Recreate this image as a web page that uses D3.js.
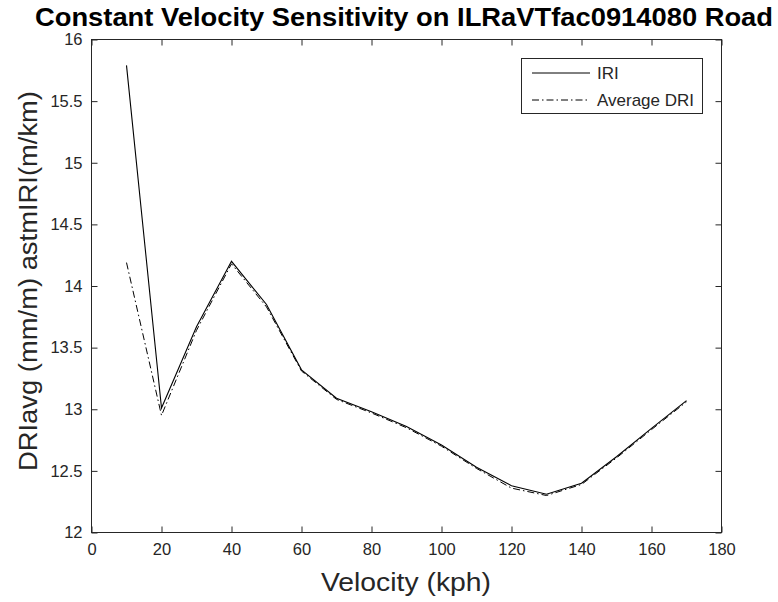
<!DOCTYPE html>
<html>
<head>
<meta charset="utf-8">
<script src="https://d3js.org/d3.v7.min.js"></script>
<style>
  body { margin: 0; background: #fff; }
  text { font-family: "Liberation Sans", Arial, sans-serif; }
</style>
</head>
<body>
<svg id="chart" width="778" height="602"></svg>
<script>
// velocity (kph)
var velocity = [10, 20, 30, 40, 50, 60, 70, 80, 90, 100, 110, 120, 130, 140, 150, 160, 170];
var iri = [15.79, 13.01, 13.67, 14.20, 13.85, 13.32, 13.09, 12.98, 12.86, 12.71, 12.53, 12.38, 12.31, 12.40, 12.615, 12.845, 13.07];
var avgDri = [14.19, 12.95, 13.64, 14.18, 13.83, 13.31, 13.08, 12.97, 12.85, 12.70, 12.52, 12.36, 12.30, 12.39, 12.605, 12.835, 13.06];

var xTicks = d3.range(0, 181, 20);
var yTicks = [12, 12.5, 13, 13.5, 14, 14.5, 15, 15.5, 16];

var svg = d3.select('#chart');
var plotL = 91.5, plotR = 721.5, plotT = 39.5, plotB = 532.5;

var x = d3.scaleLinear().domain([0, 180]).range([plotL, plotR]);
var y = d3.scaleLinear().domain([12, 16]).range([plotB, plotT]);

var axisColor = '#262626';

// plot box
svg.append('rect')
  .attr('x', plotL).attr('y', plotT)
  .attr('width', plotR - plotL).attr('height', plotB - plotT)
  .attr('fill', '#fff').attr('stroke', axisColor).attr('stroke-width', 1);

// x axis (bottom) + mirrored ticks on top
svg.append('g').attr('transform', 'translate(0,' + plotB + ')')
  .call(d3.axisBottom(x).tickValues(xTicks).tickSize(-6).tickPadding(11));
svg.append('g').attr('transform', 'translate(0,' + plotT + ')')
  .call(d3.axisTop(x).tickValues(xTicks).tickSize(-6).tickFormat(''));

svg.append('g').attr('transform', 'translate(' + plotL + ',0)')
  .call(d3.axisLeft(y).tickValues(yTicks).tickSize(-6).tickPadding(9).tickFormat(d3.format('')));
svg.append('g').attr('transform', 'translate(' + plotR + ',0)')
  .call(d3.axisRight(y).tickValues(yTicks).tickSize(-6).tickFormat(''));

svg.selectAll('.domain').remove();
svg.selectAll('.tick line').attr('stroke', axisColor);
svg.selectAll('.tick text')
  .attr('fill', axisColor)
  .style('font-size', '16.5px')
  .style('font-family', '"Liberation Sans", Arial, sans-serif');

// lines
var line = function(vals) {
  return d3.line()
    .x(function(d, i) { return x(velocity[i]); })
    .y(function(d) { return y(d); })(vals);
};

svg.append('path')
  .attr('d', line(avgDri))
  .attr('fill', 'none').attr('stroke', '#000').attr('stroke-width', 1)
  .attr('stroke-dasharray', '7,3,1.5,3');

svg.append('path')
  .attr('d', line(iri))
  .attr('fill', 'none').attr('stroke', '#000').attr('stroke-width', 1.1);

// legend
var lg = svg.append('g');
lg.append('rect')
  .attr('x', 521.5).attr('y', 58.5).attr('width', 181).attr('height', 55)
  .attr('fill', '#fff').attr('stroke', axisColor).attr('stroke-width', 1);
var legendItems = [
  { name: 'IRI', dash: null },
  { name: 'Average DRI', dash: '7,3,1.5,3' }
];
legendItems.forEach(function(it, i) {
  var yy = 73 + i * 27;
  lg.append('line')
    .attr('x1', 532).attr('x2', 590).attr('y1', yy).attr('y2', yy)
    .attr('stroke', '#000').attr('stroke-width', 1)
    .attr('stroke-dasharray', it.dash);
  lg.append('text')
    .attr('x', 597).attr('y', yy + 6)
    .attr('fill', axisColor)
    .style('font-size', '17px')
    .text(it.name);
});

// titles
svg.append('text')
  .attr('x', 404).attr('y', 26)
  .attr('text-anchor', 'middle')
  .attr('textLength', 738).attr('lengthAdjust', 'spacingAndGlyphs')
  .style('font-size', '25px').style('font-weight', 'bold')
  .attr('fill', '#000')
  .text('Constant Velocity Sensitivity on ILRaVTfac0914080 Road');

svg.append('text')
  .attr('x', 406).attr('y', 591)
  .attr('text-anchor', 'middle')
  .attr('textLength', 170).attr('lengthAdjust', 'spacingAndGlyphs')
  .style('font-size', '26px')
  .attr('fill', axisColor)
  .text('Velocity (kph)');

svg.append('text')
  .attr('transform', 'translate(37,281) rotate(-90)')
  .attr('text-anchor', 'middle')
  .attr('textLength', 380).attr('lengthAdjust', 'spacingAndGlyphs')
  .style('font-size', '26px')
  .attr('fill', axisColor)
  .text('DRIavg (mm/m) astmIRI(m/km)');
</script>
</body>
</html>
